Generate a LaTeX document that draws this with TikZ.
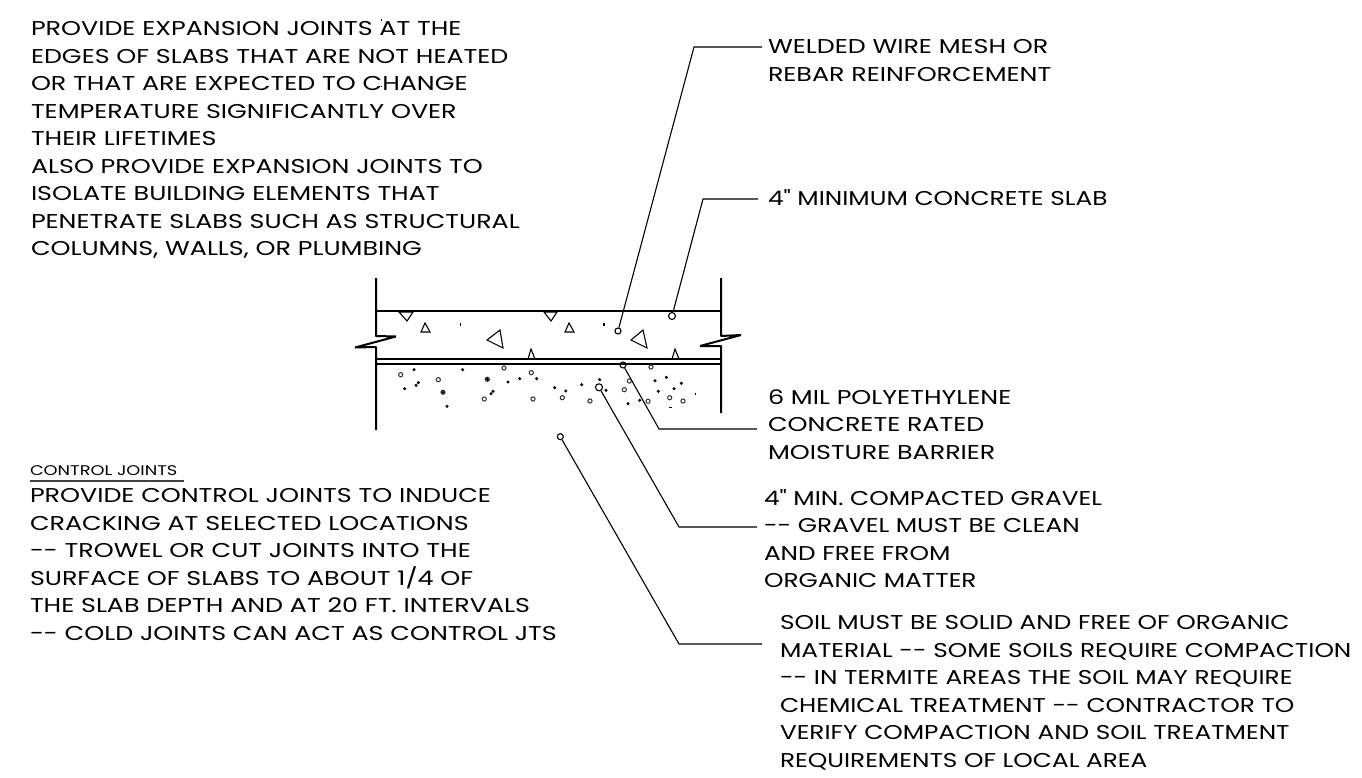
\documentclass[tikz,border=0pt]{standalone}
\usepackage{fontspec}
\newfontfamily\cad[FakeStretch=1.27]{Poppins}
\newfontfamily\cadnarrow[FakeStretch=1.24]{Poppins}
\tikzset{
  note/.style={anchor=north west,inner sep=0pt,outer sep=0pt,align=left,font=\cad\fontsize{20}{27.5}\selectfont},
  narrownote/.style={note,font=\cadnarrow\fontsize{20}{27.5}\selectfont},
  smallnote/.style={anchor=north west,inner sep=0pt,outer sep=0pt,align=left,font=\cad\fontsize{14}{16}\selectfont},
  wall/.style={line width=2pt,line join=bevel},
  layer/.style={line width=2pt},
  aggregate/.style={line width=1.1pt,line join=miter},
  leader/.style={line width=1.1pt},
  target/.style={circle,draw,line width=1.1pt,inner sep=0pt,minimum size=#1},
}
\begin{document}
\begin{tikzpicture}[x=1pt,y=-1pt]
\useasboundingbox (0,0) rectangle (1362,778);
% text
\node[note] (expansion) at (31,21.5) {PROVIDE EXPANSION JOINTS AT THE\\EDGES OF SLABS THAT ARE NOT HEATED\\OR THAT ARE EXPECTED TO CHANGE\\TEMPERATURE SIGNIFICANTLY OVER\\THEIR LIFETIMES\\ALSO PROVIDE EXPANSION JOINTS TO\\ISOLATE BUILDING ELEMENTS THAT\\PENETRATE SLABS SUCH AS STRUCTURAL\\COLUMNS, WALLS, OR PLUMBING};
\node[smallnote] (ctitle) at (30,466) {CONTROL JOINTS};
\node[note] (control) at (30,488.5) {PROVIDE CONTROL JOINTS TO INDUCE\\CRACKING AT SELECTED LOCATIONS\\-- TROWEL OR CUT JOINTS INTO THE\\SURFACE OF SLABS TO ABOUT 1/4 OF\\THE SLAB DEPTH AND AT 20 FT. INTERVALS\\-- COLD JOINTS CAN ACT AS CONTROL JTS};
\node[note] (welded) at (768,39.5) {WELDED WIRE MESH OR\\REBAR REINFORCEMENT};
\node[narrownote] (minslab) at (768,189.5) {4" MINIMUM CONCRETE SLAB};
\node[note] (poly) at (768,389.5) {6 MIL POLYETHYLENE\\CONCRETE RATED\\MOISTURE BARRIER};
\node[narrownote] (gravel) at (764,489.5) {4" MIN. COMPACTED GRAVEL\\-- GRAVEL MUST BE CLEAN\\AND FREE FROM\\ORGANIC MATTER};
\node[narrownote] (soil) at (780,615.5) {SOIL MUST BE SOLID AND FREE OF ORGANIC\\MATERIAL -- SOME SOILS REQUIRE COMPACTION\\-- IN TERMITE AREAS THE SOIL MAY REQUIRE\\CHEMICAL TREATMENT -- CONTRACTOR TO\\VERIFY COMPACTION AND SOIL TREATMENT\\REQUIREMENTS OF LOCAL AREA};
\draw[line width=1.5pt,black!75] (ctitle.south west |- 0,481) -- (184,481);
% stray specks
\fill (380.5,19) rectangle (381.5,21);
\fill (380.5,86.5) rectangle (382,87.5);
% walls and layers
\draw[wall] (376,278) -- (376,336) -- (396,336.5) -- (355,347.5) -- (376,347) -- (376,430);
\draw[wall] (721,278) -- (721,336) -- (741,335) -- (700,346) -- (721,346) -- (721,413);
\draw[layer] (376,311) -- (721,311);
\draw[layer] (376,359) -- (721,359);
\draw[layer] (376,364) -- (721,364);
% concrete aggregate
\foreach \xa/\ya/\xb/\yb/\xc/\yc in {399/312/413/312/407/321,425/323/421/332/430/332,500/330/487/340/503/348,531/349/528/359/535/359,544/312/557/312/551/321,569/323/565/332/574/332,643/330/631/340/647/348,675/349/672/359/679/359}
  \draw[aggregate] (\xa,\ya) -- (\xb,\yb) -- (\xc,\yc) -- cycle;
\foreach \x in {460.5,604} \draw[aggregate] (\x,323) -- (\x,326);
% gravel
\foreach \x/\y in {400.7/374.7,438.3/379.7,504/368,531.3/372.7,484.3/399,533/399,487.3/379.3,443/392.3,562.3/397.7,590/401,651/367,629.3/381,624.3/389.7,648/401.3,669.7/397.7,683/401}
  \draw[line width=1pt,black!80] (\x,\y) circle (2.1pt);
\foreach \x/\y in {414/369.7,462.7/369.7,418.3/382.7,416/385.3,404.7/388.7,447/406.3,508/382,519.7/378.7,536.7/378.7,493/391.3,491/393.7,487.3/379.3,443/392.3,554.7/387.7,565.7/391,581.7/384.7,599.7/379.7,606/390.3,628/403.7,639.7/400.3,655/380.7,666.3/377.3,681.3/383.3,674/388.7,658.3/391.3}
  \fill (\x,\y) circle (1.7pt);
\fill (668.8,406.6) rectangle (671.8,407.6);
\fill (694.6,392.5) rectangle (695.4,394.5);
% leader targets
\node[target=6pt] (tmesh) at (618,331) {};
\node[target=7pt] (tslab) at (672,316) {};
\node[target=6pt] (tpoly) at (623,365) {};
\node[target=7pt] (tgravel) at (599,387.3) {};
\node[target=6pt] (tsoil) at (560.3,436.7) {};
% leader elbows
\coordinate (emesh) at (694,47);
\coordinate (eslab) at (703,199);
\coordinate (epoly) at (659,429);
\coordinate (egravel) at (679,527);
\coordinate (esoil) at (679,644);
\draw[leader] (tmesh) -- (emesh) -- ([xshift=-6pt]welded.west |- emesh);
\draw[leader] (tslab) -- (eslab) -- ([xshift=-10pt]minslab.west |- eslab);
\draw[leader] (tpoly) -- (epoly) -- ([xshift=-11pt]poly.west |- epoly);
\draw[leader] (tgravel) -- (egravel) -- ([xshift=-7pt]gravel.west |- egravel);
\draw[leader] (tsoil) -- (esoil) -- ([xshift=-18pt]soil.west |- esoil);
\end{tikzpicture}
\end{document}
